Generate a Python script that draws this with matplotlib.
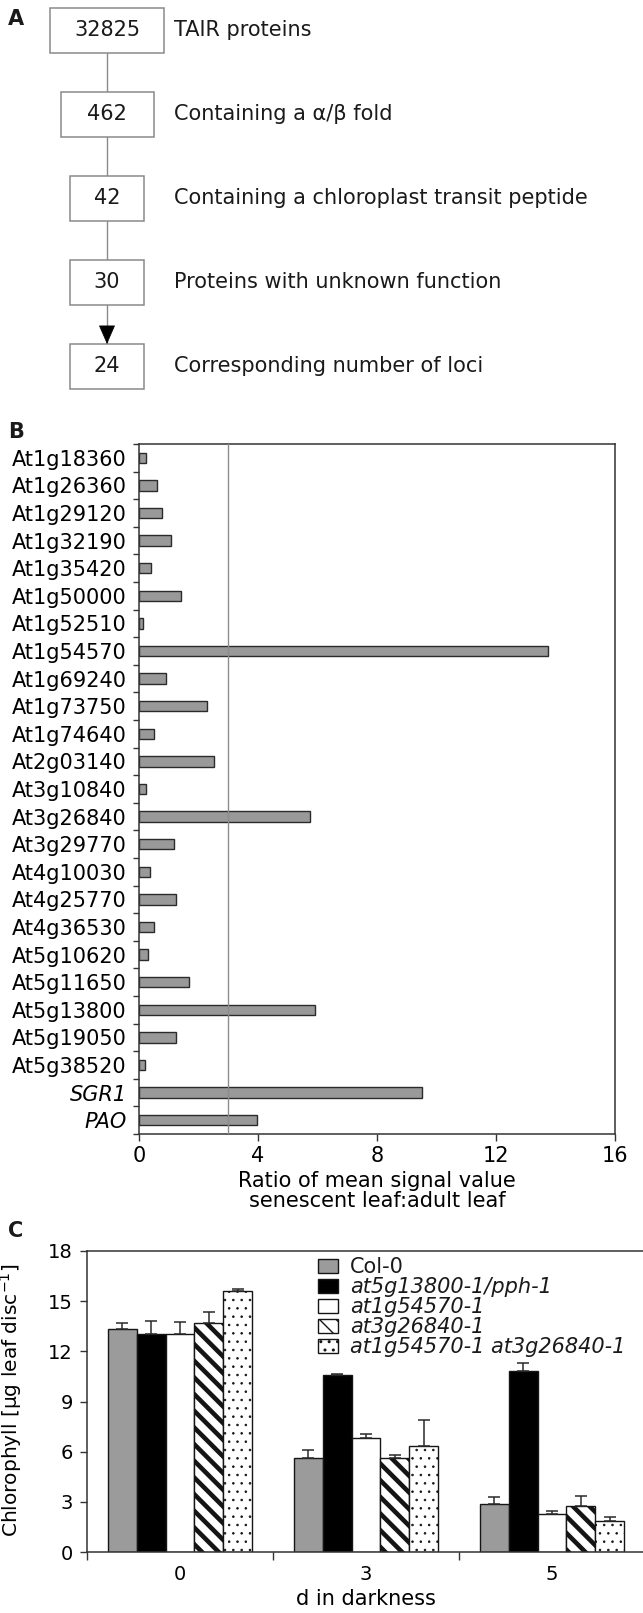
import numpy as np
import matplotlib
matplotlib.use("Agg")
import matplotlib.pyplot as plt
from matplotlib.patches import Rectangle

plt.rcParams['font.family'] = ['DejaVu Sans']
plt.rcParams['text.color'] = '#1a1a1a'

# --- panel A: screening steps
step_counts = [32825, 462, 42, 30, 24]
step_texts = ["TAIR proteins",
              "Containing a \u03b1/\u03b2 fold",
              "Containing a chloroplast transit peptide",
              "Proteins with unknown function",
              "Corresponding number of loci"]

# --- panel B: ratio senescent / adult leaf
genes = ["At1g18360", "At1g26360", "At1g29120", "At1g32190", "At1g35420",
         "At1g50000", "At1g52510", "At1g54570", "At1g69240", "At1g73750",
         "At1g74640", "At2g03140", "At3g10840", "At3g26840", "At3g29770",
         "At4g10030", "At4g25770", "At4g36530", "At5g10620", "At5g11650",
         "At5g13800", "At5g19050", "At5g38520", "SGR1", "PAO"]
ratios = [0.22, 0.59, 0.78, 1.07, 0.40, 1.42, 0.15, 13.76, 0.90, 2.30,
          0.50, 2.53, 0.25, 5.76, 1.18, 0.36, 1.24, 0.50, 0.30, 1.67,
          5.91, 1.23, 0.20, 9.52, 3.97]
threshold = 3

# --- panel C: chlorophyll in darkness
days = ["0", "3", "5"]
lines = ["Col-0", "at5g13800-1/pph-1", "at1g54570-1", "at3g26840-1",
         "at1g54570-1 at3g26840-1"]
chl_col0 = [13.33, 5.62, 2.90]
chl_pph = [13.04, 10.60, 10.82]
chl_54570 = [13.04, 6.83, 2.26]
chl_26840 = [13.70, 5.62, 2.77]
chl_double = [15.63, 6.36, 1.86]
err_col0 = [0.35, 0.49, 0.36]
err_pph = [0.80, 0.07, 0.49]
err_54570 = [0.73, 0.23, 0.20]
err_26840 = [0.65, 0.20, 0.56]
err_double = [0.07, 1.55, 0.25]

W, H = 643, 1613
fig = plt.figure(figsize=(W / 100, H / 100), dpi=100)


def fig_axes(left, top, right, bottom):
    return fig.add_axes([left / W, 1 - bottom / H, (right - left) / W, (bottom - top) / H])


# ---------------- A
axA = fig.add_axes([0, 0, 1, 1])
axA.set_xlim(0, W)
axA.set_ylim(H, 0)
axA.axis('off')
box_w = [114, 93, 74, 74, 74]
box_h = 45
cx = 107
for i, (n, txt) in enumerate(zip(step_counts, step_texts)):
    cy = 30.5 + 84 * i
    axA.add_patch(Rectangle((cx - box_w[i] / 2, cy - box_h / 2), box_w[i], box_h,
                            fc='white', ec='#8a8a8a', lw=1.1, zorder=2))
    axA.text(cx, cy, str(n), ha='center', va='center', fontsize=15, zorder=3)
    axA.text(174, cy, txt, ha='left', va='center', fontsize=15)
    if i > 0:
        axA.plot([cx, cx], [cy - 84 + box_h / 2, cy - box_h / 2], color='#8a8a8a', lw=1, zorder=1)
# arrow head onto the last box
axA.annotate('', xy=(cx, 30.5 + 84 * 4 - box_h / 2), xytext=(cx, 30.5 + 84 * 4 - box_h / 2 - 17),
             arrowprops=dict(arrowstyle='-|>,head_length=0.62,head_width=0.27',
                             color='black', lw=0.5, mutation_scale=20,
                             shrinkA=0, shrinkB=0))

for lab, y in [("A", 19), ("B", 432), ("C", 1231)]:
    fig.text(8 / W, 1 - y / H, lab, fontsize=15, fontweight='bold', va='center', ha='left')

# ---------------- B
axB = fig_axes(139, 444, 615, 1134)
yb = np.arange(len(genes))
axB.barh(yb, ratios, height=0.38, color='#999999', edgecolor='#2b2b2b', lw=1, zorder=2)
axB.axvline(threshold, color='#8c8c8c', lw=1, zorder=3)
axB.set_xlim(0, 16)
axB.set_ylim(len(genes) - 0.5, -0.5)
axB.set_xticks([0, 4, 8, 12, 16])
axB.set_yticks(yb)
axB.set_yticklabels(genes)
for t in axB.get_yticklabels()[-2:]:
    t.set_fontstyle('italic')
axB.set_yticks(np.arange(len(genes) + 1) - 0.5, minor=True)
axB.tick_params(axis='y', which='major', length=0, pad=9, labelsize=15)
axB.tick_params(axis='y', which='minor', length=4, width=1, direction='out', color='#333')
axB.tick_params(axis='x', length=5, width=1, direction='out', pad=4, labelsize=15, color='#333')
for s in axB.spines.values():
    s.set_linewidth(1.1)
    s.set_color('#333')
axB.set_xlabel("Ratio of mean signal value\nsenescent leaf:adult leaf", fontsize=15,
               linespacing=1.05, labelpad=3)

# ---------------- C
axC = fig_axes(87, 1251, 645, 1552)
xc = np.arange(len(days))
bw = 0.155
series = [chl_col0, chl_pph, chl_54570, chl_26840, chl_double]
errs = [err_col0, err_pph, err_54570, err_26840, err_double]
fills = ['#9b9b9b', 'black', 'white', 'white', 'white']
hatches = [None, None, None, '\\\\', '..']
hatch_lw = [1, 1, 1, 3.3, 0.6]
handles = []
for k in range(len(lines)):
    with plt.rc_context({'hatch.linewidth': hatch_lw[k], 'hatch.color': 'black'}):
        bars = axC.bar(xc + (k - 2) * bw, series[k], bw, color=fills[k],
                       edgecolor='#151515', lw=1, hatch=hatches[k], zorder=2,
                       yerr=[np.zeros(len(days)), errs[k]], capsize=4,
                       error_kw=dict(ecolor='#2a2a2a', elinewidth=1.1, capthick=1.1, zorder=3),
                       label=lines[k])
    handles.append(bars)
axC.set_xlim(-0.5, 2.5)
axC.set_ylim(0, 18)
axC.set_yticks(np.arange(0, 19, 3))
axC.set_xticks(xc)
axC.set_xticklabels(days)
axC.set_xticks(np.arange(len(days) + 1) - 0.5, minor=True)
axC.tick_params(axis='x', which='major', length=0, pad=9, labelsize=14)
axC.tick_params(axis='x', which='minor', length=6, width=1, direction='out', color='#333')
axC.tick_params(axis='y', length=5, width=1, direction='out', pad=5, labelsize=14, color='#333')
axC.spines['right'].set_visible(False)
for s in ['left', 'top', 'bottom']:
    axC.spines[s].set_linewidth(1.1)
    axC.spines[s].set_color('#333')
axC.set_xlabel("d in darkness", fontsize=15, labelpad=4)
axC.set_ylabel("Chlorophyll [\u03bcg leaf disc$^{-1}$]", fontsize=14.5)
axC.yaxis.set_label_coords((24 - 87) / 558, 0.505)
leg = axC.legend(handles=handles, loc='upper left', bbox_to_anchor=(0.414, 0.979),
                 frameon=False, fontsize=15, labelspacing=0.0, handlelength=0.97,
                 handleheight=0.7, handletextpad=0.58, borderpad=0, borderaxespad=0)
for t in leg.get_texts()[1:]:
    t.set_fontstyle('italic')

fig.savefig("out.png", dpi=100)
